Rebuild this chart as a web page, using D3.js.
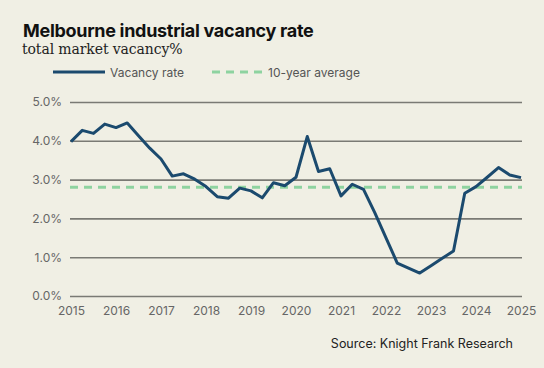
<!DOCTYPE html>
<html>
<head>
<meta charset="utf-8">
<script src="https://cdn.jsdelivr.net/npm/d3@7"></script>
<style>
  body { margin: 0; background: #f0efe4; }
  svg { display: block; }
</style>
</head>
<body>
<div id="chart"></div>
<script>
// quarterly observations, 2015 Q1 .. 2025 Q1
var quarters = d3.range(0, 41).map(function(i) { return 2015 + i / 4; });
var vacancy = [
  3.98, 4.27, 4.19, 4.43, 4.34, 4.46, 4.13, 3.81, 3.53, 3.09,
  3.15, 3.01, 2.82, 2.56, 2.52, 2.78, 2.71, 2.53, 2.92, 2.84,
  3.06, 4.11, 3.21, 3.28, 2.58, 2.88, 2.75, 2.15, 1.50, 0.85,
  0.72, 0.59, 0.78, 0.97, 1.16, 2.65, 2.82, 3.06, 3.31, 3.12,
  3.05
];
var average = 2.8;
var yTicks = [0, 1, 2, 3, 4, 5];
var xTicks = d3.range(2015, 2026);

var svgWidth = 544;
var svgHeight = 368;

var margin = { top: 102, right: 22, bottom: 72, left: 70 };
var width = svgWidth - margin.left - margin.right;
var height = svgHeight - margin.top - margin.bottom;

var svg = d3.select("#chart")
  .append("svg")
  .attr("width", svgWidth)
  .attr("height", svgHeight);

svg.append("rect")
  .attr("width", svgWidth)
  .attr("height", svgHeight)
  .attr("fill", "#f0efe4");

svg.append("text")
  .attr("x", 23)
  .attr("y", 37)
  .style("font-family", "Inter, 'Noto Sans', sans-serif")
  .style("font-weight", "700")
  .style("font-size", "18px")
  .style("letter-spacing", "-0.3px")
  .style("fill", "#111")
  .text("Melbourne industrial vacancy rate");

svg.append("text")
  .attr("x", 22)
  .attr("y", 54)
  .style("font-family", "'DejaVu Serif', 'Liberation Serif', serif")
  .style("font-size", "14px")
  .style("letter-spacing", "-0.1px")
  .style("fill", "#222")
  .text("total market vacancy%");

var chartGroup = svg.append("g")
  .attr("transform", `translate(${margin.left}, ${margin.top})`);

var x = d3.scaleLinear()
  .domain([2015, 2025])
  .range([1, width - 1]);

var y = d3.scaleLinear()
  .domain([0, 5])
  .range([height, 0]);

// gridlines + y labels
var leftAxis = d3.axisLeft(y)
  .tickValues(yTicks)
  .tickSize(-width)
  .tickPadding(8)
  .tickFormat(function(d) { return d.toFixed(1) + "%"; });

var yAxis = chartGroup.append("g").call(leftAxis);
yAxis.select(".domain").remove();
yAxis.selectAll(".tick line")
  .attr("stroke", "#7a7a74")
  .attr("stroke-width", 1.6);
yAxis.selectAll(".tick text")
  .style("font-family", "Inter, 'Noto Sans', sans-serif")
  .style("font-size", "12px")
  .style("fill", "#666");

var bottomAxis = d3.axisBottom(x)
  .tickValues(xTicks)
  .tickSize(0)
  .tickPadding(10)
  .tickFormat(d3.format("d"));

var xAxis = chartGroup.append("g")
  .attr("transform", `translate(0, ${height})`)
  .call(bottomAxis);
xAxis.select(".domain").remove();
xAxis.selectAll(".tick text")
  .style("font-family", "Inter, 'Noto Sans', sans-serif")
  .style("font-size", "12px")
  .style("fill", "#666");

// 10-year average
chartGroup.append("line")
  .attr("x1", 0)
  .attr("x2", width)
  .attr("y1", y(average))
  .attr("y2", y(average))
  .attr("stroke", "#8ed3a0")
  .attr("stroke-width", 3)
  .attr("stroke-dasharray", "8,6");

var line = d3.line()
  .x(function(d, i) { return x(quarters[i]); })
  .y(function(d) { return y(d); });

chartGroup.append("path")
  .datum(vacancy)
  .attr("d", line)
  .attr("fill", "none")
  .attr("stroke", "#1b4a6e")
  .attr("stroke-width", 3)
  .attr("stroke-linejoin", "round");

// legend
var legend = svg.append("g").attr("transform", "translate(0, 72)");
legend.append("line")
  .attr("x1", 53).attr("x2", 105)
  .attr("stroke", "#1b4a6e")
  .attr("stroke-width", 3);
legend.append("text")
  .attr("x", 110).attr("y", 4.5)
  .style("font-family", "Inter, 'Noto Sans', sans-serif")
  .style("font-size", "12px")
  .style("fill", "#555")
  .text("Vacancy rate");
legend.append("line")
  .attr("x1", 212).attr("x2", 265)
  .attr("stroke", "#8ed3a0")
  .attr("stroke-width", 3)
  .attr("stroke-dasharray", "8,6");
legend.append("text")
  .attr("x", 268).attr("y", 4.5)
  .style("font-family", "Inter, 'Noto Sans', sans-serif")
  .style("font-size", "12px")
  .style("fill", "#555")
  .text("10-year average");

svg.append("text")
  .attr("x", 513)
  .attr("y", 348)
  .attr("text-anchor", "end")
  .style("font-family", "Inter, 'Noto Sans', sans-serif")
  .style("font-size", "12.5px")
  .style("fill", "#222")
  .text("Source: Knight Frank Research");
</script>
</body>
</html>
